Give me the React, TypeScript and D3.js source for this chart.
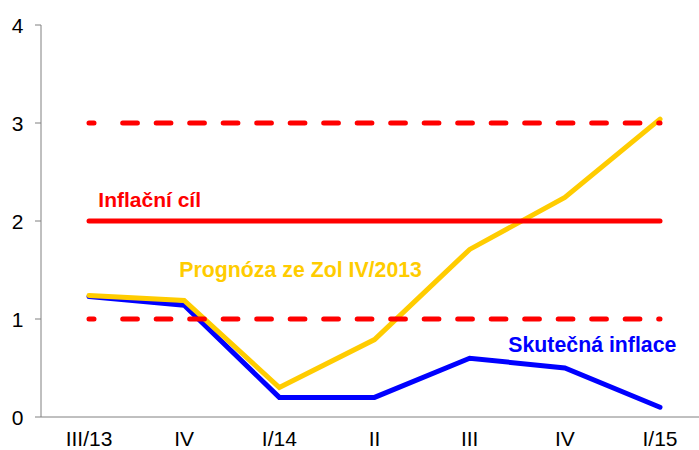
import React from "react";
import * as d3 from "d3";

const categories = ["III/13", "IV", "I/14", "II", "III", "IV ", "I/15"];
const categoryLabels = ["III/13", "IV", "I/14", "II", "III", "IV", "I/15"];
const actual = [1.23, 1.14, 0.2, 0.2, 0.6, 0.5, 0.1];
const forecast = [1.24, 1.19, 0.3, 0.79, 1.71, 2.24, 3.04];
const target = 2;
const bandLow = 1;
const bandHigh = 3;
const yTicks = [0, 1, 2, 3, 4];

const W = 699;
const H = 450;
const FONT = "'Liberation Sans', Arial, sans-serif";

export default function App() {
  const x = d3.scalePoint<string>().domain(categories).range([89, 660]);
  const y = d3.scaleLinear().domain([0, 4]).range([417, 25]);
  const axisX = 41;

  const line = d3
    .line<number>()
    .x((_, i) => x(categories[i]) as number)
    .y((d) => y(d));

  const x0 = x(categories[0]) as number;
  const x1 = x(categories[categories.length - 1]) as number;

  const dashParts: number[] = [5, 28.7];
  for (let i = 0; i < 20; i++) dashParts.push(14.7, 18.8);
  const dash = dashParts.join(" ");

  return (
    <svg
      width={W}
      height={H}
      style={{ position: "absolute", left: 0, top: 0, background: "#fff" }}
      fontFamily={FONT}
    >
      {/* axes */}
      <line x1={axisX} x2={axisX} y1={y(4)} y2={y(0)} stroke="#808080" strokeWidth={1} />
      <line x1={axisX} x2={W} y1={y(0)} y2={y(0)} stroke="#808080" strokeWidth={1} />
      {yTicks.map((t) => (
        <g key={t}>
          <line x1={axisX - 6} x2={axisX} y1={y(t)} y2={y(t)} stroke="#808080" strokeWidth={1} />
          <text x={23.5} y={y(t) + 7.5} textAnchor="end" fontSize={21} fill="#000">
            {t}
          </text>
        </g>
      ))}
      {categories.map((c, i) => (
        <text key={c} x={x(c) as number} y={446} textAnchor="middle" fontSize={21} fill="#000">
          {categoryLabels[i]}
        </text>
      ))}

      {/* series */}
      <path d={line(actual) || ""} fill="none" stroke="#0000FF" strokeWidth={5} strokeLinecap="round" strokeLinejoin="miter" />
      <path d={line(forecast) || ""} fill="none" stroke="#FFCC00" strokeWidth={5} strokeLinecap="round" strokeLinejoin="miter" />

      {/* target and band */}
      <line x1={x0} x2={x1} y1={y(target)} y2={y(target)} stroke="#FF0000" strokeWidth={5} strokeLinecap="round" />
      {[bandLow, bandHigh].map((b) => (
        <line
          key={b}
          x1={x0}
          x2={x1}
          y1={y(b)}
          y2={y(b)}
          stroke="#FF0000"
          strokeWidth={5}
          strokeLinecap="round"
          strokeDasharray={dash}
        />
      ))}

      {/* labels */}
      <text x={98.3} y={206.7} fontSize={21} fontWeight="bold" fill="#FF0000">
        Inflační cíl
      </text>
      <text x={179.3} y={277.3} fontSize={21.3} fontWeight="bold" fill="#FFCC00">
        Prognóza ze Zol IV/2013
      </text>
      <text x={508.3} y={351.7} fontSize={21.3} fontWeight="bold" fill="#0000FF">
        Skutečná inflace
      </text>
    </svg>
  );
}
